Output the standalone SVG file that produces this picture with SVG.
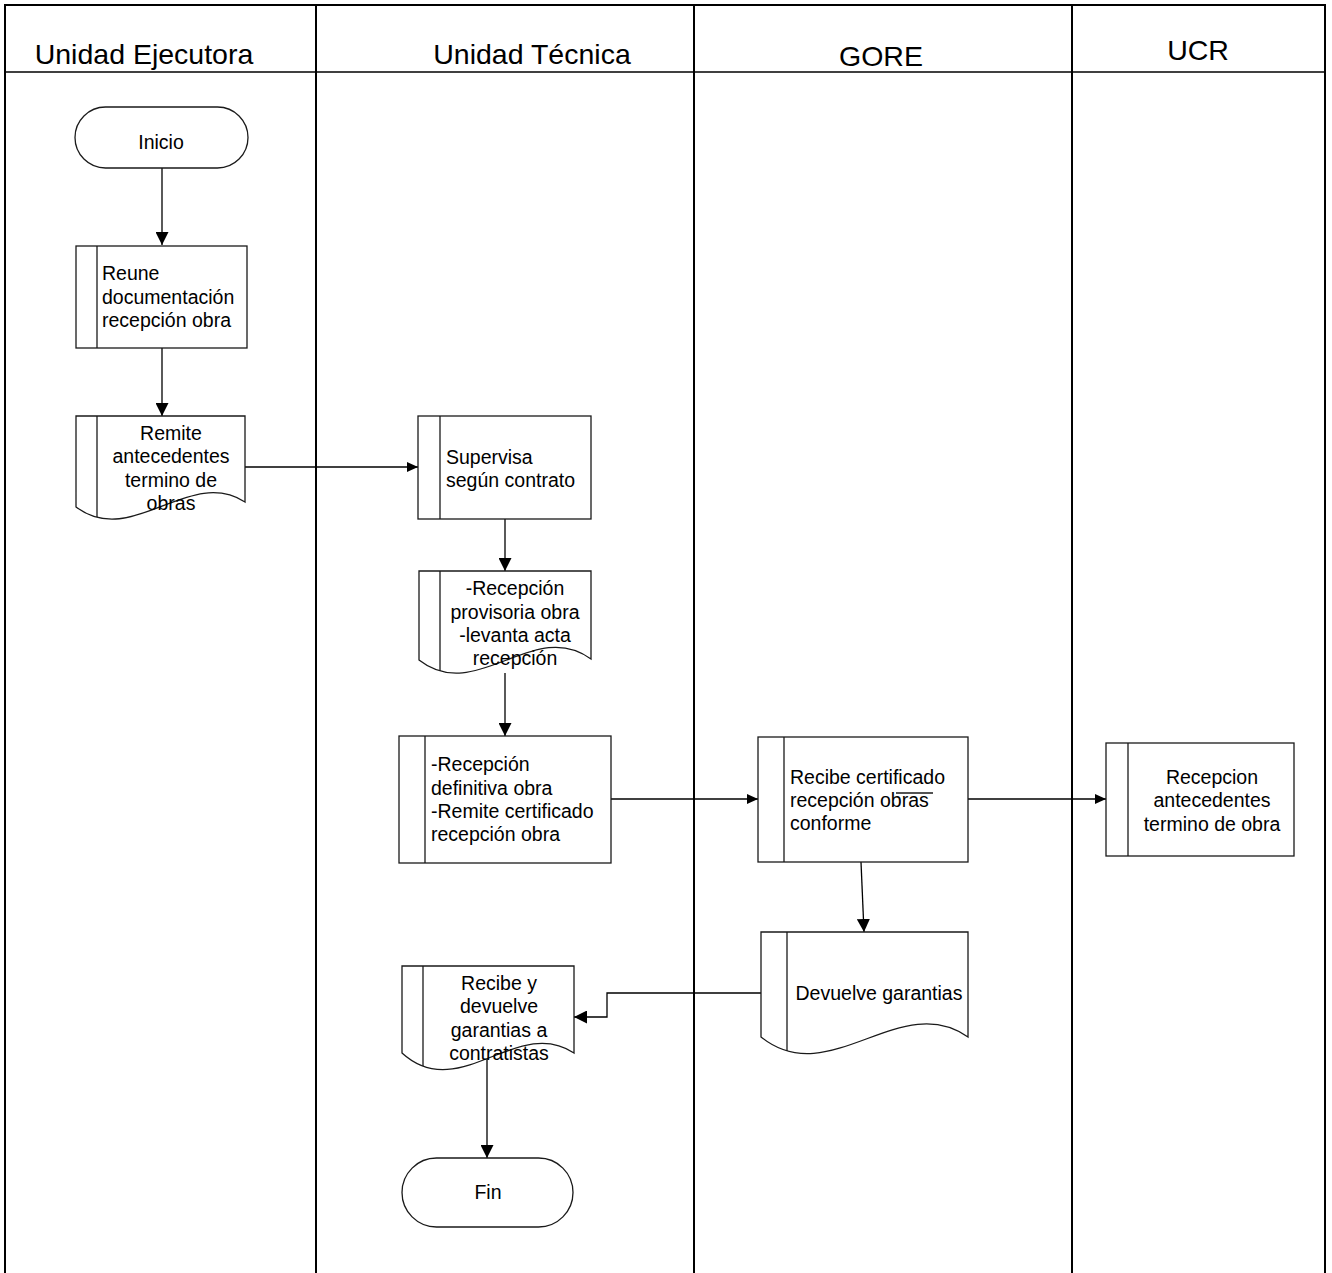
<svg xmlns="http://www.w3.org/2000/svg" width="1332" height="1273" viewBox="0 0 1332 1273">
<defs>
<style>
.lane{stroke:#000;stroke-width:2;fill:none}
.hdr{font-family:"Liberation Sans",Arial,sans-serif;font-size:28.5px;fill:#000}
.shape{fill:#fff;stroke:#1a1a1a;stroke-width:1.3}
.bar{stroke:#1a1a1a;stroke-width:1.3;fill:none}
.t{font-family:"Liberation Sans",Arial,sans-serif;font-size:19.5px;fill:#000}
.c{text-anchor:middle}
.conn{stroke:#000;stroke-width:1.3;fill:none}
</style>
<marker id="ah" viewBox="0 0 13 13" refX="13" refY="6.5" markerWidth="13" markerHeight="13" markerUnits="userSpaceOnUse" orient="auto">
<path d="M0,0 L13,6.5 L0,13 Z" fill="#000"/>
</marker>
<marker id="ahs" viewBox="0 0 11 10" refX="11" refY="5" markerWidth="11" markerHeight="10" markerUnits="userSpaceOnUse" orient="auto">
<path d="M0,0 L11,5 L0,10 Z" fill="#000"/>
</marker>
</defs>
<rect width="1332" height="1273" fill="#fff"/>
<g id="lanes">
<line class="lane" x1="5" y1="5" x2="1325" y2="5"/>
<line class="lane" x1="5" y1="72" x2="1325" y2="72" style="stroke-width:1.5"/>
<line class="lane" x1="5" y1="4" x2="5" y2="1273"/>
<line class="lane" x1="316" y1="4" x2="316" y2="1273"/>
<line class="lane" x1="694" y1="4" x2="694" y2="1273"/>
<line class="lane" x1="1072" y1="4" x2="1072" y2="1273"/>
<line class="lane" x1="1325" y1="4" x2="1325" y2="1273"/>
<text class="hdr c" x="144" y="64">Unidad Ejecutora</text>
<text class="hdr c" x="532" y="64">Unidad Técnica</text>
<text class="hdr c" x="881" y="66">GORE</text>
<text class="hdr c" x="1198" y="60">UCR</text>
</g>
<g id="connectors">
<line class="conn" x1="162" y1="168" x2="162" y2="245" marker-end="url(#ah)"/>
<line class="conn" x1="162" y1="348" x2="162" y2="416" marker-end="url(#ah)"/>
<line class="conn" x1="245" y1="467" x2="418" y2="467" marker-end="url(#ahs)"/>
<line class="conn" x1="505" y1="519" x2="505" y2="571" marker-end="url(#ah)"/>
<line class="conn" x1="505" y1="673" x2="505" y2="736" marker-end="url(#ah)"/>
<line class="conn" x1="611" y1="799" x2="758" y2="799" marker-end="url(#ahs)"/>
<line class="conn" x1="968" y1="799" x2="1106" y2="799" marker-end="url(#ahs)"/>
<line class="conn" x1="861" y1="862" x2="864" y2="932" marker-end="url(#ah)"/>
<polyline class="conn" points="761,993 607,993 607,1017 574,1017" marker-end="url(#ah)"/>
<line class="conn" x1="487" y1="1043" x2="487" y2="1158" marker-end="url(#ah)"/>
</g>
<g id="inicio">
<rect class="shape" x="75" y="107" width="173" height="61" rx="30.5"/>
<text class="t c" x="161" y="149">Inicio</text>
</g>
<g id="reune">
<rect class="shape" x="76" y="246" width="171" height="102"/>
<line class="bar" x1="97" y1="246" x2="97" y2="348"/>
<text class="t" x="102" y="280">Reune</text>
<text class="t" x="102" y="304">documentación</text>
<text class="t" x="102" y="327">recepción obra</text>
</g>
<g id="remite">
<path class="shape" d="M76,416 H245 V502 C189,466 132,549 76,507 Z"/>
<line class="bar" x1="97" y1="416" x2="97" y2="517"/>
<text class="t c" x="171" y="440">Remite</text>
<text class="t c" x="171" y="463">antecedentes</text>
<text class="t c" x="171" y="487">termino de</text>
<text class="t c" x="171" y="510">obras</text>
</g>
<g id="supervisa">
<rect class="shape" x="418" y="416" width="173" height="103"/>
<line class="bar" x1="440" y1="416" x2="440" y2="519"/>
<text class="t" x="446" y="464">Supervisa</text>
<text class="t" x="446" y="487">según contrato</text>
</g>
<g id="provisoria">
<path class="shape" d="M419,571 H591 V659 C534,617 476,705 419,660 Z"/>
<line class="bar" x1="440" y1="571" x2="440" y2="671"/>
<text class="t c" x="515" y="595">-Recepción</text>
<text class="t c" x="515" y="619">provisoria obra</text>
<text class="t c" x="515" y="642">-levanta acta</text>
<text class="t c" x="515" y="665">recepción</text>
</g>
<g id="definitiva">
<rect class="shape" x="399" y="736" width="212" height="127"/>
<line class="bar" x1="425" y1="736" x2="425" y2="863"/>
<text class="t" x="431" y="771">-Recepción</text>
<text class="t" x="431" y="795">definitiva obra</text>
<text class="t" x="431" y="818">-Remite certificado</text>
<text class="t" x="431" y="841">recepción obra</text>
</g>
<g id="recibe-certificado">
<rect class="shape" x="758" y="737" width="210" height="125"/>
<line class="bar" x1="784" y1="737" x2="784" y2="862"/>
<text class="t" x="790" y="784">Recibe certificado</text>
<text class="t" x="790" y="807">recepción obras</text>
<text class="t" x="790" y="830">conforme</text>
<line class="bar" x1="896" y1="793" x2="933" y2="793"/>
</g>
<g id="recepcion-ucr">
<rect class="shape" x="1106" y="743" width="188" height="113"/>
<line class="bar" x1="1128" y1="743" x2="1128" y2="856"/>
<text class="t c" x="1212" y="784">Recepcion</text>
<text class="t c" x="1212" y="807">antecedentes</text>
<text class="t c" x="1212" y="831">termino de obra</text>
</g>
<g id="devuelve">
<path class="shape" d="M761,932 H968 V1037 C900,989 829,1092 761,1037 Z"/>
<line class="bar" x1="787" y1="932" x2="787" y2="1051"/>
<text class="t c" x="879" y="1000">Devuelve garantias</text>
</g>
<g id="recibe-devuelve">
<path class="shape" d="M402,966 H574 V1053 C517,1015 459,1105 402,1053 Z"/>
<line class="bar" x1="423" y1="966" x2="423" y2="1066"/>
<text class="t c" x="499" y="990">Recibe y</text>
<text class="t c" x="499" y="1013">devuelve</text>
<text class="t c" x="499" y="1037">garantias a</text>
<text class="t c" x="499" y="1060">contratistas</text>
</g>
<g id="fin">
<rect class="shape" x="402" y="1158" width="171" height="69" rx="34.5"/>
<text class="t c" x="488" y="1199">Fin</text>
</g>
</svg>
